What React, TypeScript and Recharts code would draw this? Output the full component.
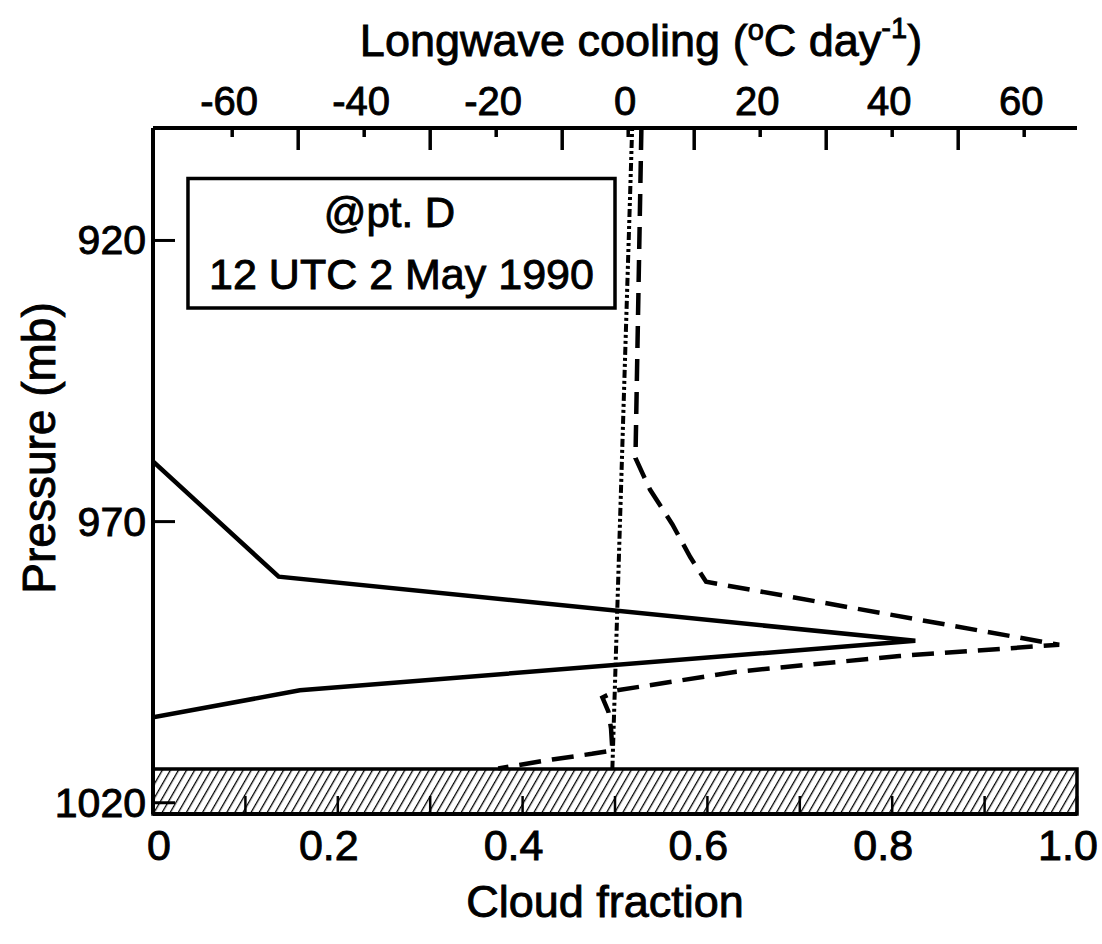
import React from 'react'
import { ComposedChart, Line, XAxis, YAxis, ReferenceArea } from 'recharts'

// cloud fraction (solid) against pressure, mb
const cloudFraction = [
  { p: 959.3, cf: 0 },
  { p: 979.8, cf: 0.136 },
  { p: 991.2, cf: 0.825 },
  { p: 1000.0, cf: 0.159 },
  { p: 1004.8, cf: 0 }
]

// longwave cooling (dashed), deg C per day
const longwave = [
  { p: 900, lw: 2.0 },
  { p: 958.7, lw: 1.1 },
  { p: 964.3, lw: 3.3 },
  { p: 970.5, lw: 6.7 },
  { p: 976.3, lw: 9.4 },
  { p: 980.7, lw: 11.8 },
  { p: 991.9, lw: 65.3 },
  { p: 993.9, lw: 41.1 },
  { p: 996.7, lw: 16.4 },
  { p: 1000.0, lw: -1.7 },
  { p: 1001.3, lw: -3.9 },
  { p: 1003.8, lw: -3.0 },
  { p: 1006.8, lw: -2.6 },
  { p: 1010.7, lw: -2.4 },
  { p: 1011.3, lw: -5.5 },
  { p: 1012.3, lw: -11.5 },
  { p: 1013.9, lw: -19.7 }
]

// zero line (dash-dot)
const zeroLine = [
  { p: 900, lw: 0.6 },
  { p: 1014, lw: -2.4 }
]

const pressureTicks = [920, 970, 1020]
const coolingTicks = [-60, -50, -40, -30, -20, -10, 0, 10, 20, 30, 40, 50, 60]
const coolingLabels = [-60, -40, -20, 0, 20, 40, 60]
const fractionTicks = [0, 0.1, 0.2, 0.3, 0.4, 0.5, 0.6, 0.7, 0.8, 0.9, 1.0]
const fractionLabels = ['0', '0.2', '0.4', '0.6', '0.8', '1.0']

const pressureDomain = [900, 1022]
const coolingDomain = [-72, 68]
const surfaceBand = [1014, 1022]
const boxCooling = [-66.7, -2]
const boxPressure = [909, 932]

const FONT = '"Liberation Sans", Arial, Helvetica, sans-serif'
const INK = '#000'
const txt = { fontFamily: FONT, fill: INK, stroke: INK, strokeWidth: 0.9 }

function CoolingTick({ x, y, payload }: any) {
  const v = payload.value
  const major = coolingLabels.includes(v)
  return (
    <g>
      <line x1={x} y1={y} x2={x} y2={y + (major ? 9 : 22)} stroke={INK} strokeWidth={3.5} />
      {major && (
        <text x={x - 3} y={y - 13} textAnchor="middle" fontSize={40} {...txt}>
          {String(v)}
        </text>
      )}
    </g>
  )
}

function FractionTick({ x, y, payload }: any) {
  const v = payload.value
  const label = fractionLabels.find((l) => Math.abs(parseFloat(l) - v) < 1e-6)
  return (
    <g>
      <line x1={x} y1={y} x2={x} y2={y - 18} stroke={INK} strokeWidth={2.5} />
      {label && (
        <text x={x + (v === 0 ? 6 : -9)} y={y + 46} textAnchor="middle" fontSize={43} {...txt}>
          {label}
        </text>
      )}
    </g>
  )
}

function PressureTick({ x, y, payload }: any) {
  return (
    <g>
      <line x1={x} y1={y} x2={x + 22} y2={y} stroke={INK} strokeWidth={3} />
      <text x={x - 7} y={y + 14} textAnchor="end" fontSize={41} {...txt}>
        {payload.value}
      </text>
    </g>
  )
}

const TopTitle = (props: any) => {
  const vb = props.viewBox
  return (
    <text x={vb.x + vb.width / 2 + 26} y={vb.y + 56} textAnchor="middle" fontSize={45} {...txt}>
      Longwave cooling (
      <tspan fontSize={29} dy={-16}>o</tspan>
      <tspan dy={16}>C day</tspan>
      <tspan fontSize={29} dy={-18}>-1</tspan>
      <tspan dy={18}>)</tspan>
    </text>
  )
}

const BottomTitle = (props: any) => {
  const vb = props.viewBox
  return (
    <text x={vb.x + vb.width / 2 - 10} y={vb.y + 103} textAnchor="middle" fontSize={45} {...txt}>
      Cloud fraction
    </text>
  )
}

const LeftTitle = (props: any) => {
  const vb = props.viewBox
  const cx = vb.x + 55
  const cy = vb.y + vb.height / 2 - 23
  return (
    <text x={cx} y={cy} transform={`rotate(-90, ${cx}, ${cy})`} textAnchor="middle" fontSize={46} {...txt}>
      Pressure (mb)
    </text>
  )
}

const BoxText = (props: any) => {
  const vb = props.viewBox
  const cx = vb.x + vb.width / 2
  return (
    <g>
      <text x={cx - 12} y={vb.y + 48} textAnchor="middle" fontSize={42} {...txt}>
        @pt. D
      </text>
      <text x={cx} y={vb.y + 110} textAnchor="middle" fontSize={43} {...txt}>
        12 UTC 2 May 1990
      </text>
    </g>
  )
}

export default function App() {
  return (
    <div style={{ position: 'absolute', left: 0, top: 0, background: '#fff' }}>
      <svg width={0} height={0} style={{ position: 'absolute' }}>
        <defs>
          <pattern id="hatch" width={7} height={7} patternUnits="userSpaceOnUse" patternTransform="rotate(30)">
            <line x1={0} y1={0} x2={0} y2={7} stroke={INK} strokeWidth={2.6} />
          </pattern>
        </defs>
      </svg>
      <ComposedChart
        width={1102}
        height={944}
        layout="vertical"
        margin={{ top: 0, right: 25, bottom: 0, left: 0 }}
      >
        <XAxis
          xAxisId="lw"
          type="number"
          orientation="top"
          domain={coolingDomain}
          allowDataOverflow
          ticks={coolingTicks}
          interval={0}
          height={128}
          tickSize={0}
          tickMargin={0}
          tickLine={false}
          tick={<CoolingTick />}
          axisLine={{ stroke: INK, strokeWidth: 4 }}
          label={TopTitle}
        />
        <XAxis
          xAxisId="cf"
          type="number"
          orientation="bottom"
          domain={[0, 1]}
          allowDataOverflow
          ticks={fractionTicks}
          interval={0}
          height={130}
          tickSize={0}
          tickMargin={0}
          tickLine={false}
          tick={<FractionTick />}
          axisLine={{ stroke: INK, strokeWidth: 4 }}
          label={BottomTitle}
        />
        <YAxis
          yAxisId="p"
          type="number"
          dataKey="p"
          orientation="left"
          domain={pressureDomain}
          allowDataOverflow
          ticks={pressureTicks}
          interval={0}
          width={153}
          tickSize={0}
          tickMargin={0}
          tickLine={false}
          tick={<PressureTick />}
          axisLine={{ stroke: INK, strokeWidth: 4 }}
          label={LeftTitle}
        />
        <YAxis
          yAxisId="r"
          type="number"
          orientation="right"
          domain={pressureDomain}
          width={0}
          tick={false}
          tickLine={false}
          axisLine={{ stroke: INK, strokeWidth: 4 }}
        />
        <ReferenceArea
          xAxisId="cf"
          yAxisId="p"
          x1={0}
          x2={1}
          y1={surfaceBand[0]}
          y2={surfaceBand[1]}
          fill="url(#hatch)"
          fillOpacity={1}
          stroke={INK}
          strokeWidth={3.5}
        />
        <ReferenceArea
          xAxisId="lw"
          yAxisId="p"
          x1={boxCooling[0]}
          x2={boxCooling[1]}
          y1={boxPressure[0]}
          y2={boxPressure[1]}
          fill="#fff"
          fillOpacity={1}
          stroke={INK}
          strokeWidth={3.5}
          label={BoxText}
        />
        <Line
          data={zeroLine}
          dataKey="lw"
          xAxisId="lw"
          yAxisId="p"
          type="linear"
          stroke={INK}
          strokeWidth={4}
          strokeDasharray="3 3 3 3 8 3"
          dot={false}
          isAnimationActive={false}
        />
        <Line
          data={longwave}
          dataKey="lw"
          xAxisId="lw"
          yAxisId="p"
          type="linear"
          stroke={INK}
          strokeWidth={4.5}
          strokeDasharray="22 11"
          dot={false}
          isAnimationActive={false}
        />
        <Line
          data={cloudFraction}
          dataKey="cf"
          xAxisId="cf"
          yAxisId="p"
          type="linear"
          stroke={INK}
          strokeWidth={4.5}
          dot={false}
          isAnimationActive={false}
        />
      </ComposedChart>
    </div>
  )
}
